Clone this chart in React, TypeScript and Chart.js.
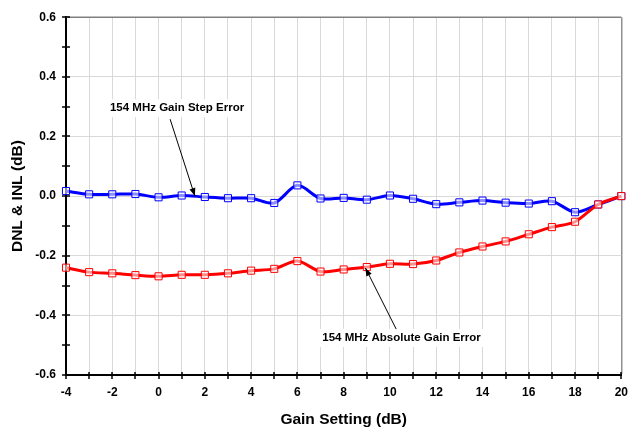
import React, { useEffect, useRef } from "react";
import { Chart, registerables } from "chart.js";

Chart.register(...registerables);

const gainSettings = [-4, -3, -2, -1, 0, 1, 2, 3, 4, 5, 6, 7, 8, 9, 10, 11, 12, 13, 14, 15, 16, 17, 18, 19, 20];
const stepError = [0.017, 0.006, 0.006, 0.007, -0.004, 0.002, -0.003, -0.007, -0.007, -0.023, 0.036, -0.008, -0.006, -0.012, 0.002, -0.009, -0.027, -0.021, -0.015, -0.022, -0.025, -0.017, -0.054, -0.028, 0.0];
const absError = [-0.240, -0.255, -0.259, -0.265, -0.269, -0.264, -0.264, -0.259, -0.250, -0.244, -0.218, -0.253, -0.246, -0.238, -0.227, -0.228, -0.216, -0.189, -0.169, -0.152, -0.128, -0.104, -0.086, -0.028, 0.0];

const stepLabel = "154 MHz Gain Step Error";
const absLabel = "154 MHz Absolute Gain Error";

const FONT = "'Liberation Sans', Arial, sans-serif";

const annotations = [
  { text: stepLabel, tx: 0.8, ty: 0.295, fromX: 0.5, fromY: 0.258, toX: 1.57, toY: 0.0 },
  { text: absLabel, tx: 10.5, ty: -0.476, fromX: 10.27, fromY: -0.446, toX: 8.94, toY: -0.241 },
];

const isMajorY = (v: number) => Math.abs(v * 5 - Math.round(v * 5)) < 1e-6;

const decorPlugin = {
  id: "decor",
  afterDraw(chart: any) {
    const ctx = chart.ctx;
    const xs = chart.scales.x;
    const ys = chart.scales.y;
    const { left, right, top, bottom } = chart.chartArea;
    ctx.save();
    ctx.strokeStyle = "#808080";
    ctx.lineWidth = 1.5;
    ctx.beginPath();
    ctx.moveTo(left, top);
    ctx.lineTo(right, top);
    ctx.stroke();
    ctx.strokeStyle = "#000";
    ctx.lineWidth = 1.5;
    ys.ticks.forEach((t: any) => {
      const y = Math.round(ys.getPixelForValue(t.value));
      ctx.beginPath();
      ctx.moveTo(left - 4, y);
      ctx.lineTo(left + 4, y);
      ctx.stroke();
    });
    xs.ticks.forEach((t: any) => {
      const x = Math.round(xs.getPixelForValue(t.value));
      ctx.beginPath();
      ctx.moveTo(x, bottom - 3);
      ctx.lineTo(x, bottom + 4);
      ctx.stroke();
    });
    ctx.font = `bold 11.5px ${FONT}`;
    ctx.textAlign = "center";
    ctx.textBaseline = "middle";
    annotations.forEach((a) => {
      const tx = xs.getPixelForValue(a.tx);
      const ty = ys.getPixelForValue(a.ty);
      const w = ctx.measureText(a.text).width;
      ctx.fillStyle = "#fff";
      ctx.fillRect(tx - w / 2 - 4, ty - 9, w + 8, 18);
      ctx.fillStyle = "#000";
      ctx.fillText(a.text, tx, ty);
      const x1 = xs.getPixelForValue(a.fromX);
      const y1 = ys.getPixelForValue(a.fromY);
      const x2 = xs.getPixelForValue(a.toX);
      const y2 = ys.getPixelForValue(a.toY);
      ctx.strokeStyle = "#000";
      ctx.lineWidth = 1;
      ctx.beginPath();
      ctx.moveTo(x1, y1);
      ctx.lineTo(x2, y2);
      ctx.stroke();
      const ang = Math.atan2(y2 - y1, x2 - x1);
      const L = 8, W = 3;
      ctx.beginPath();
      ctx.moveTo(x2, y2);
      ctx.lineTo(x2 - L * Math.cos(ang) + W * Math.sin(ang), y2 - L * Math.sin(ang) - W * Math.cos(ang));
      ctx.lineTo(x2 - L * Math.cos(ang) - W * Math.sin(ang), y2 - L * Math.sin(ang) + W * Math.cos(ang));
      ctx.closePath();
      ctx.fillStyle = "#000";
      ctx.fill();
    });
    ctx.restore();
  },
};

export default function App() {
  const ref = useRef<HTMLCanvasElement>(null);
  useEffect(() => {
    document.body.style.margin = "0";
    const canvas = ref.current!;
    const chart = new Chart(canvas, {
      type: "line",
      data: {
        datasets: [
          {
            label: absLabel,
            data: gainSettings.map((g, i) => ({ x: g, y: absError[i] })),
            borderColor: "#ff0000",
            backgroundColor: "rgba(255,255,255,0.55)",
            borderWidth: 3,
            pointStyle: "rect",
            pointRadius: 5,
            pointBorderWidth: 1,
            pointBorderColor: "#ff0000",
            pointBackgroundColor: "rgba(255,255,255,0.55)",
            tension: 0.3,
            clip: false,
          },
          {
            label: stepLabel,
            data: gainSettings.map((g, i) => ({ x: g, y: stepError[i] })),
            borderColor: "#0000ff",
            backgroundColor: "rgba(255,255,255,0.55)",
            borderWidth: 3,
            pointStyle: "rect",
            pointRadius: 5,
            pointBorderWidth: 1,
            pointBorderColor: "#0000ff",
            pointBackgroundColor: "rgba(255,255,255,0.55)",
            tension: 0.3,
            clip: false,
          },
        ],
      },
      options: {
        animation: false,
        responsive: false,
        layout: { padding: { top: 17, right: 12, left: 0, bottom: 0 } },
        plugins: { legend: { display: false }, tooltip: { enabled: false } },
        scales: {
          x: {
            type: "linear",
            min: -4,
            max: 20,
            afterFit: (s: any) => { s.height = 52; },
            ticks: {
              stepSize: 1,
              autoSkip: false,
              maxRotation: 0,
              padding: 10,
              color: "#000",
              font: { family: FONT, size: 12, weight: "bold" },
              callback: (v: any) => (Math.round(v) % 2 === 0 ? String(Math.round(v)) : ""),
            },
            grid: {
              drawTicks: false,
              color: (c: any) => (c.tick && Math.abs(c.tick.value - 20) < 1e-6 ? "#909090" : "#d9d9d9"),
              lineWidth: (c: any) => (c.tick && Math.abs(c.tick.value - 20) < 1e-6 ? 1.5 : 1),
            },
            border: { color: "#000", width: 2 },
            title: {
              display: true,
              text: "Gain Setting (dB)",
              color: "#000",
              font: { family: FONT, size: 15.5, weight: "bold", lineHeight: 1.0 },
              padding: { top: 0, bottom: 0 },
            },
          },
          y: {
            type: "linear",
            min: -0.6,
            max: 0.6,
            afterFit: (s: any) => { s.width = 66; },
            ticks: {
              stepSize: 0.1,
              autoSkip: false,
              padding: 10,
              color: "#000",
              font: { family: FONT, size: 12, weight: "bold" },
              callback: (v: any) => {
                if (!isMajorY(v)) return "";
                if (Math.abs(v) < 1e-9) return "0.0";
                return v.toFixed(1);
              },
            },
            grid: {
              drawTicks: false,
              color: (c: any) => {
                const v = c.tick ? c.tick.value : 0;
                if (!isMajorY(v)) return "rgba(0,0,0,0)";
                return "#d9d9d9";
              },
            },
            border: { color: "#000", width: 2 },
            title: {
              display: true,
              text: "DNL & INL (dB)",
              color: "#000",
              font: { family: FONT, size: 15.5, weight: "bold" },
              padding: { top: 8, bottom: 0 },
            },
          },
        },
      },
      plugins: [decorPlugin],
    } as any);
    return () => chart.destroy();
  }, []);
  return (
    <div style={{ width: 638, height: 427, background: "#fff" }}>
      <canvas ref={ref} width={638} height={427} />
    </div>
  );
}
